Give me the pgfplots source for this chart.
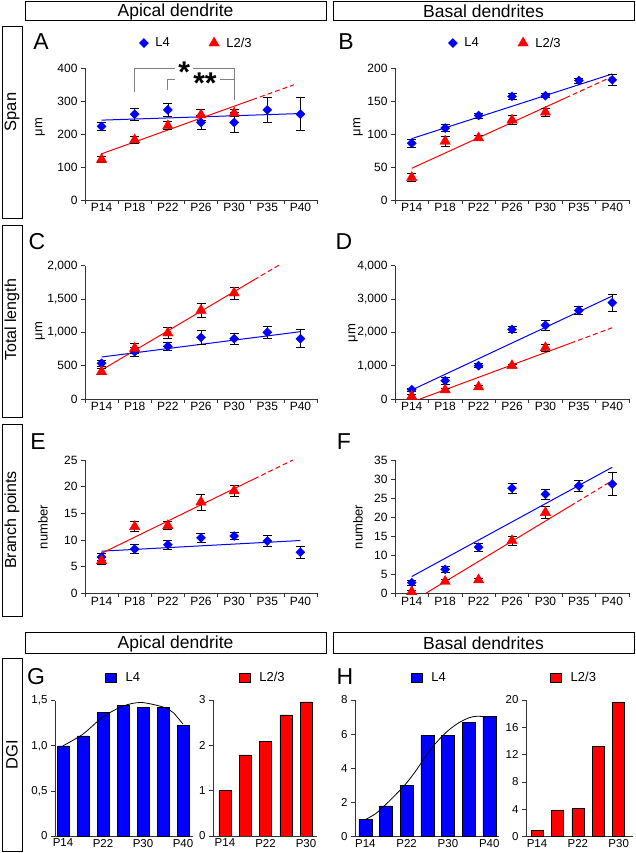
\documentclass[border=0pt]{standalone}
\usepackage{pgfplots}
\usepackage{pgfplotstable}
\pgfplotsset{compat=1.18}
\usepackage{fontspec}
\setmainfont{Liberation Sans}
\setsansfont{Liberation Sans}
\definecolor{Lblue}{RGB}{0,0,255}
\definecolor{Lred}{RGB}{255,0,0}
\definecolor{brk}{RGB}{128,128,128}
\newcommand{\fs}[1]{\fontsize{#1}{#1}\selectfont}
% ---- data: x index (0=P14 ... 6=P40), mean, s.e.m. ----
\pgfplotstableread{
x y e
0 223 12
1 260 19
2 273 21
3 235 20
4 235 30
5 273 37
6 260 50
}\Afour
\pgfplotstableread{
x y e
0 123 10
1 182 10
2 225 12
3 258 18
4 263 11
}\Atwo
\pgfplotstableread{
x y e
0 86 6
1 109 5
2 128 4
3 157 4
4 158 3
5 181 4
6 182 9
}\Bfour
\pgfplotstableread{
x y e
0 34 6
1 89 8
2 94 4
3 121 7
4 133 6
}\Btwo
\pgfplotstableread{
x y e
0 535 40
1 710 65
2 790 60
3 925 100
4 905 85
5 1000 95
6 905 135
}\Cfour
\pgfplotstableread{
x y e
0 410 45
1 760 75
2 990 80
3 1330 110
4 1590 90
}\Ctwo
\pgfplotstableread{
x y e
0 280 50
1 550 100
2 1000 60
3 2090 90
4 2210 150
5 2660 130
6 2890 250
}\Dfour
\pgfplotstableread{
x y e
0 80 50
1 270 50
2 360 60
3 1000 50
4 1540 100
}\Dtwo
\pgfplotstableread{
x y e
0 6.8 0.6
1 8.3 0.9
2 9.1 0.8
3 10.4 0.9
4 10.75 0.7
5 9.8 1.0
6 7.7 1.1
}\Efour
\pgfplotstableread{
x y e
0 6.1 0.6
1 12.5 0.9
2 12.7 0.8
3 17.1 1.5
4 19.2 1.1
}\Etwo
\pgfplotstableread{
x y e
0 2.8 0.7
1 6.3 0.8
2 12.1 1.0
3 27.6 1.3
4 26.0 1.3
5 28.2 1.5
6 28.7 3.0
}\Ffour
\pgfplotstableread{
x y e
0 0.4 0.5
1 3.1 0.5
2 3.5 0.5
3 13.8 1.1
4 21.2 1.5
}\Ftwo
\pgfplotsset{
  base/.style={
    scale only axis, anchor=south west,
    axis x line*=bottom, axis y line*=left,
    axis line style={-, line width=0.75pt, black!80},
    tick align=outside, major tick length=4pt,
    tick style={line width=0.7pt, black!80},
    tick label style={font=\fs{12}},
    /pgf/number format/assume math mode=true,
    /pgf/number format/1000 sep={,},
    scaled y ticks=false,
    enlargelimits=false,
    legend style={draw=none, fill=none, font=\fs{13}},
  },
  lp/.style={base, xmin=-0.5, xmax=6.5, ymin=0,
    xtick={-0.5,0.5,1.5,2.5,3.5,4.5,5.5,6.5}, xticklabels={},
    extra x ticks={0,1,2,3,4,5,6},
    extra x tick labels={P14,P18,P22,P26,P30,P35,P40},
    extra x tick style={major tick length=0pt},
  },
  mlegend/.style={
    legend columns=2,
    legend image code/.code={\draw[##1] plot coordinates {(0pt,0pt)};},
    legend style={at={(#1)}, anchor=west,
      /tikz/every odd column/.append style={column sep=5pt},
      /tikz/every even column/.append style={column sep=37pt}},
  },
  bp/.style={base, ymin=0, xtick style={draw=none},
    tick label style={font=\fs{11.5}},
    xticklabel style={yshift=4.5pt}},
  blegend/.style={
    legend image code/.code={\draw[##1] (0pt,-4.5pt) rectangle (11pt,4.5pt);},
    legend style={at={(#1)}, anchor=west,
      /tikz/every odd column/.append style={column sep=7pt}},
  },
  eb/.style={forget plot, draw=none, no marks,
     error bars/y dir=both, error bars/y explicit,
     error bars/error bar style={draw=black, line width=0.7pt, solid},
     error bars/error mark options={draw=black, mark size=4.5pt, line width=0.7pt, rotate=90}},
  s4/.style={only marks, mark=square*, mark size=3.2pt, color=Lblue,
     mark options={rotate=45, fill=Lblue, draw=Lblue}},
  s23/.style={only marks, mark=triangle*, mark size=6pt, color=Lred,
     mark options={fill=Lred, draw=Lred}},
  r4/.style={Lblue, line width=1pt, forget plot, no marks},
  r23/.style={Lred, line width=1pt, forget plot, no marks},
  r23d/.style={Lred, line width=1pt, forget plot, no marks, dash pattern=on 5pt off 3pt},
}
\begin{document}
\begin{tikzpicture}[x=1pt,y=1pt]
\useasboundingbox (0,0) rectangle (636,853);
% headers
\draw[line width=1pt] (25,832) rectangle (326,851.5);
\node[font=\fs{17.5}] at (175.5,841.5) {Apical dendrite};
\draw[line width=1pt] (333,832) rectangle (634,851.5);
\node[font=\fs{17.5}] at (483.5,841.5) {Basal dendrites};
\draw[line width=1pt] (25,199) rectangle (326,220);
\node[font=\fs{17.5}] at (175.5,209.5) {Apical dendrite};
\draw[line width=1pt] (333,199) rectangle (634,220);
\node[font=\fs{17.5}] at (483.5,209.5) {Basal dendrites};
% row boxes
\draw[line width=1pt] (2,634) rectangle (22,826);
\node[font=\fs{16.5}, rotate=90] at (12,741) {Span};
\draw[line width=1pt] (2,435) rectangle (22,627);
\node[font=\fs{16}, rotate=90] at (12,533) {Total length};
\draw[line width=1pt] (2,236) rectangle (22,428);
\node[font=\fs{16}, rotate=90] at (12,333) {Branch points};
\draw[line width=1pt] (2,1) rectangle (22,194);
\node[font=\fs{16.5}, rotate=90] at (12,98) {DGI};
% panel letters
\foreach \l/\x/\y in {A/41/811,B/346/811,C/37/611,D/344/611,E/38/411,F/344/411,G/36/176,H/345/176}
  \node[font=\fs{23}] at (\x,\y) {\l};
% y labels
\node[font=\fs{13}, rotate=90] at (40,726) {μm};
\node[font=\fs{13}, rotate=90] at (358,726) {μm};
\node[font=\fs{13}, rotate=90] at (40,522) {μm};
\node[font=\fs{13}, rotate=90] at (353,520) {μm};
\node[font=\fs{13}, rotate=90] at (43,326) {number};
\node[font=\fs{13}, rotate=90] at (358,326) {number};

% ---------- A ----------
\begin{axis}[lp, at={(85pt,653pt)}, width=232pt, height=132pt, ymax=400,
  ytick={0,100,200,300,400}, mlegend={0.2207,1.189}, clip mode=individual]
\addplot[r4] coordinates {(0,242) (6,262)};
\addplot[r23] coordinates {(0,140) (4.55,304)};
\addplot[r23d] coordinates {(4.55,304) (5.8,349)};
\addplot[eb] table[x=x,y=y,y error=e] {\Afour};
\addplot[eb] table[x=x,y=y,y error=e] {\Atwo};
\addplot[s4] table[x=x,y=y] {\Afour};
\addlegendentry{L4}
\addplot[s23] table[x=x,y=y] {\Atwo};
\addlegendentry{L2/3}
\draw[brk, line width=1pt] (axis cs:1,327) -- (axis cs:1,397) -- (axis cs:4,397) -- (axis cs:4,303);
\draw[brk, line width=1pt] (axis cs:2,333) -- (axis cs:2,364) -- (axis cs:4,364);
\node[fill=white, inner xsep=3pt, inner ysep=0pt, font=\fs{30}\bfseries, yshift=-3.6pt] at (axis cs:2.49,397) {*};
\node[fill=white, inner xsep=3pt, inner ysep=0pt, font=\fs{30}\bfseries, yshift=-3.6pt] at (axis cs:3.12,364) {**};
\end{axis}

% ---------- B ----------
\begin{axis}[lp, at={(395pt,653pt)}, width=234pt, height=132pt, ymax=200,
  ytick={0,50,100,150,200}, mlegend={0.2145,1.189}]
\addplot[r4] coordinates {(0,93) (6,191)};
\addplot[r23] coordinates {(0,48) (4.6,154.6)};
\addplot[r23d] coordinates {(4.6,154.6) (6,187)};
\addplot[eb] table[x=x,y=y,y error=e] {\Bfour};
\addplot[eb] table[x=x,y=y,y error=e] {\Btwo};
\addplot[s4] table[x=x,y=y] {\Bfour};
\addlegendentry{L4}
\addplot[s23] table[x=x,y=y] {\Btwo};
\addlegendentry{L2/3}
\end{axis}

% ---------- C ----------
\begin{axis}[lp, at={(85pt,454pt)}, width=232pt, height=133.3pt, ymax=2000,
  ytick={0,500,1000,1500,2000}]
\addplot[r4] coordinates {(0,630) (6,1010)};
\addplot[r23] coordinates {(0,435) (4.6,1787)};
\addplot[r23d] coordinates {(4.6,1787) (5.35,2008)};
\addplot[eb] table[x=x,y=y,y error=e] {\Cfour};
\addplot[eb] table[x=x,y=y,y error=e] {\Ctwo};
\addplot[s4] table[x=x,y=y] {\Cfour};
\addplot[s23] table[x=x,y=y] {\Ctwo};
\end{axis}

% ---------- D ----------
\begin{axis}[lp, at={(395pt,454pt)}, width=234pt, height=133.3pt, ymax=4000,
  ytick={0,1000,2000,3000,4000}]
\addplot[r4] coordinates {(0,270) (6,3090)};
\addplot[r23] coordinates {(0.25,0) (4.75,1674)};
\addplot[r23d] coordinates {(4.75,1674) (6,2139)};
\addplot[eb] table[x=x,y=y,y error=e] {\Dfour};
\addplot[eb] table[x=x,y=y,y error=e] {\Dtwo};
\addplot[s4] table[x=x,y=y] {\Dfour};
\addplot[s23] table[x=x,y=y] {\Dtwo};
\end{axis}

% ---------- E ----------
\begin{axis}[lp, at={(85pt,259.7pt)}, width=232pt, height=133.3pt, ymax=25,
  ytick={0,5,10,15,20,25}]
\addplot[r4] coordinates {(0,7.9) (6,9.9)};
\addplot[r23] coordinates {(0,7.5) (4.6,21.44)};
\addplot[r23d] coordinates {(4.6,21.44) (5.77,25)};
\addplot[eb] table[x=x,y=y,y error=e] {\Efour};
\addplot[eb] table[x=x,y=y,y error=e] {\Etwo};
\addplot[s4] table[x=x,y=y] {\Efour};
\addplot[s23] table[x=x,y=y] {\Etwo};
\end{axis}

% ---------- F ----------
\begin{axis}[lp, at={(395pt,259.7pt)}, width=234pt, height=133.3pt, ymax=35,
  ytick={0,5,10,15,20,25,30,35}]
\addplot[r4] coordinates {(0,4.4) (6,33.1)};
\addplot[r23] coordinates {(0.42,0) (4.75,22.95)};
\addplot[r23d] coordinates {(4.75,22.95) (6,29.6)};
\addplot[eb] table[x=x,y=y,y error=e] {\Ffour};
\addplot[eb] table[x=x,y=y,y error=e] {\Ftwo};
\addplot[s4] table[x=x,y=y] {\Ffour};
\addplot[s23] table[x=x,y=y] {\Ftwo};
\end{axis}

% ---------- G left ----------
\begin{axis}[bp, at={(55pt,17pt)}, width=138pt, height=135.3pt,
  xmin=-0.4, xmax=6.5, ymax=1.5, ytick={0,0.5,1,1.5}, yticklabels={0,{0,5},{1,0},{1,5}},
  xtick={0,2,4,6}, xticklabels={P14,P22,P30,P40}, blegend={0.34,1.168}]
\addplot[ybar, bar width=12pt, fill=Lblue, draw=black, line width=0.5pt]
  coordinates {(0,1.0) (1,1.11) (2,1.37) (3,1.45) (4,1.43) (5,1.43) (6,1.23)};
\addlegendentry{L4}
\addplot[black, line width=0.8pt, smooth, forget plot, no marks]
  coordinates {(0,1.0) (1,1.13) (2,1.32) (3,1.44) (3.9,1.48) (5,1.43) (5.5,1.37) (6,1.24)};
\end{axis}

% ---------- G right ----------
\begin{axis}[bp, at={(213pt,17pt)}, width=104pt, height=136pt,
  xmin=-0.59, xmax=4.54, ymax=3, ytick={0,1,2,3},
  xtick={0,2,4}, xticklabels={P14,P22,P30}, blegend={0.218,1.162}]
\addplot[ybar, bar width=12pt, fill=Lred, draw=black, line width=0.5pt]
  coordinates {(0,1.0) (1,1.79) (2,2.08) (3,2.67) (4,2.96)};
\addlegendentry{L2/3}
\end{axis}

% ---------- H left ----------
\begin{axis}[bp, at={(355pt,16.3pt)}, width=144pt, height=136.7pt,
  xmin=-0.5, xmax=6.47, ymax=8, ytick={0,2,4,6,8},
  xtick={0,2,4,6}, xticklabels={P14,P22,P30,P40}, blegend={0.366,1.161}]
\addplot[ybar, bar width=13pt, fill=Lblue, draw=black, line width=0.5pt]
  coordinates {(0,1.01) (1,1.8) (2,2.99) (3,5.95) (4,5.95) (5,6.67) (6,7.02)};
\addlegendentry{L4}
\addplot[black, line width=0.8pt, smooth, forget plot, no marks]
  coordinates {(0,1.0) (0.5,1.35) (1,1.9) (1.5,2.5) (2,3.15) (2.5,3.95) (3,4.85) (3.5,5.6) (4,6.2) (4.5,6.65) (5,6.95) (5.4,7.05) (6,7.0)};
\end{axis}

% ---------- H right ----------
\begin{axis}[bp, at={(526pt,16.3pt)}, width=107pt, height=136.7pt,
  xmin=-0.54, xmax=4.7, ymax=20, ytick={0,4,8,12,16,20},
  xtick={0,2,4}, xticklabels={P14,P22,P30}, blegend={0.196,1.161}]
\addplot[ybar, bar width=12pt, fill=Lred, draw=black, line width=0.5pt]
  coordinates {(0,0.98) (1,3.8) (2,4.1) (3,13.2) (4,19.6)};
\addlegendentry{L2/3}
\end{axis}
\end{tikzpicture}
\end{document}
